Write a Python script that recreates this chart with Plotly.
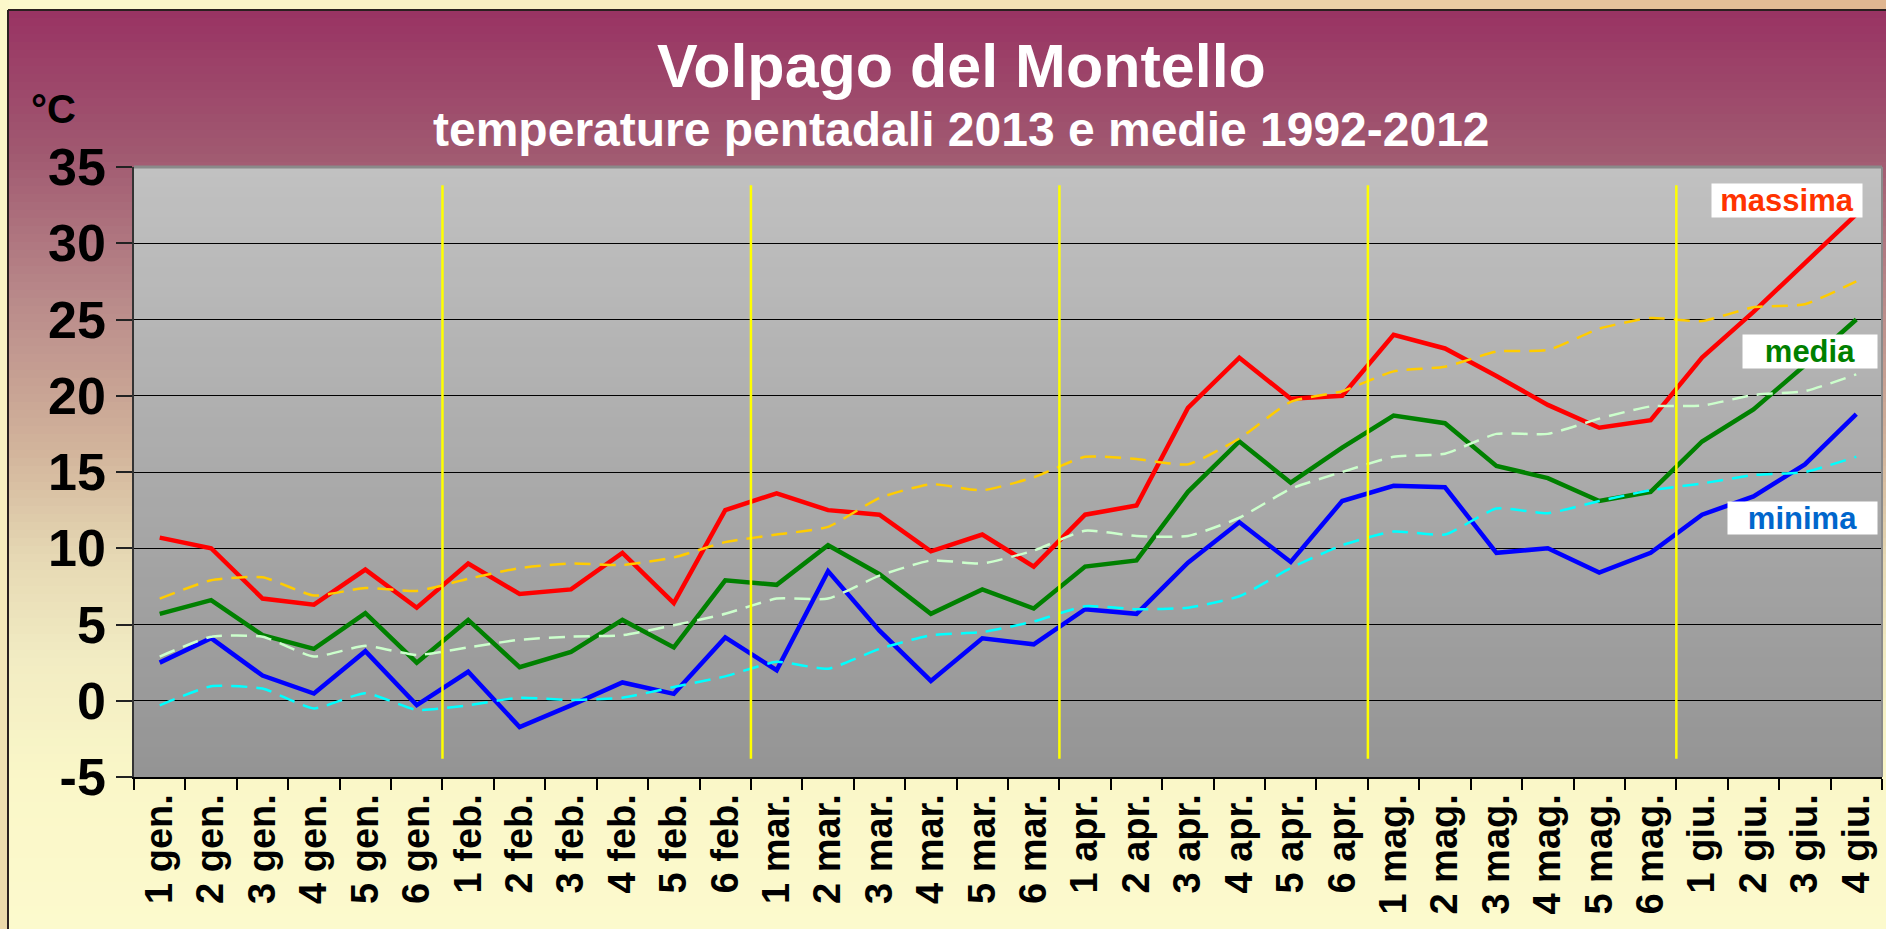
import plotly.graph_objects as go

# ---------------- data ----------------
categories = [
    "1 gen.", "2 gen.", "3 gen.", "4 gen.", "5 gen.", "6 gen.",
    "1 feb.", "2 feb.", "3 feb.", "4 feb.", "5 feb.", "6 feb.",
    "1 mar.", "2 mar.", "3 mar.", "4 mar.", "5 mar.", "6 mar.",
    "1 apr.", "2 apr.", "3 apr.", "4 apr.", "5 apr.", "6 apr.",
    "1 mag.", "2 mag.", "3 mag.", "4 mag.", "5 mag.", "6 mag.",
    "1 giu.", "2 giu.", "3 giu.", "4 giu.",
]

# 2013 pentad values
massima_2013 = [10.7, 10.0, 6.7, 6.3, 8.6, 6.1, 9.0, 7.0, 7.3, 9.7, 6.4, 12.5,
                13.6, 12.5, 12.2, 9.8, 10.9, 8.8, 12.2, 12.8, 19.2, 22.5, 19.8, 20.0,
                24.0, 23.1, 21.3, 19.4, 17.9, 18.4, 22.5, 25.5, 28.7, 31.9]
media_2013 = [5.7, 6.6, 4.3, 3.4, 5.75, 2.5, 5.3, 2.2, 3.2, 5.3, 3.5, 7.9,
              7.6, 10.2, 8.3, 5.7, 7.3, 6.05, 8.8, 9.2, 13.7, 17.0, 14.3, 16.6,
              18.7, 18.2, 15.4, 14.6, 13.1, 13.7, 17.0, 19.1, 22.0, 25.0]
minima_2013 = [2.5, 4.1, 1.65, 0.47, 3.25, -0.28, 1.9, -1.73, -0.3, 1.2, 0.45, 4.15,
               2.0, 8.5, 4.6, 1.3, 4.1, 3.7, 6.0, 5.7, 9.05, 11.7, 9.1, 13.1,
               14.1, 14.0, 9.7, 10.0, 8.4, 9.7, 12.2, 13.4, 15.5, 18.8]

# 1992-2012 averages
massima_media = [6.7, 7.9, 8.1, 6.9, 7.4, 7.2, 8.0, 8.7, 9.0, 8.9, 9.4, 10.4,
                 10.9, 11.4, 13.3, 14.2, 13.8, 14.65, 16.0, 15.85, 15.5, 17.2, 19.6, 20.3,
                 21.6, 21.9, 22.9, 23.0, 24.4, 25.1, 24.9, 25.8, 26.0, 27.5]
media_media = [2.9, 4.2, 4.2, 2.9, 3.6, 3.0, 3.5, 4.0, 4.2, 4.3, 4.95, 5.7,
               6.7, 6.7, 8.2, 9.2, 9.0, 9.85, 11.15, 10.8, 10.8, 12.0, 13.9, 15.0,
               16.0, 16.2, 17.5, 17.5, 18.5, 19.3, 19.35, 20.05, 20.3, 21.4]
minima_media = [-0.3, 0.95, 0.8, -0.5, 0.5, -0.6, -0.3, 0.2, 0.05, 0.2, 0.9, 1.6,
                2.55, 2.1, 3.4, 4.3, 4.5, 5.2, 6.2, 6.0, 6.1, 6.85, 8.7, 10.2,
                11.1, 10.9, 12.6, 12.3, 13.1, 13.8, 14.25, 14.8, 15.0, 16.0]

y_tickvals = [-5, 0, 5, 10, 15, 20, 25, 30, 35]
y_ticktext = ["-5", "0", "5", "10", "15", "20", "25", "30", "35"]

title_text = "Volpago del Montello"
subtitle_text = "temperature pentadali 2013 e medie 1992-2012"
unit_text = "°C"
legend_labels = ["massima", "media", "minima"]

# ---------------- geometry / helpers ----------------
FIG_W, FIG_H = 1886, 929
L, R, T, B = 134, 1882, 167, 777
FONT = "Liberation Sans, Arial, sans-serif"


def px(x):
    return (x - L) / (R - L)


def py(y):
    return (B - y) / (B - T)


def hex2rgb(h):
    h = h.lstrip("#")
    return tuple(int(h[i:i + 2], 16) for i in (0, 2, 4))


def interp(stops, t):
    for (t0, c0), (t1, c1) in zip(stops[:-1], stops[1:]):
        if t0 <= t <= t1:
            f = 0 if t1 == t0 else (t - t0) / (t1 - t0)
            a, b = hex2rgb(c0), hex2rgb(c1)
            return "rgb(%d,%d,%d)" % tuple(round(a[i] + (b[i] - a[i]) * f) for i in range(3))
    return stops[-1][1]


shapes = []

# outer frame top strip (horizontal gradient)
top_stops = [(0, "#FCF9CD"), (900, "#F6E6BA"), (1886, "#E0B690")]
step = 20
for x0 in range(0, FIG_W, step):
    shapes.append(dict(type="rect", xref="paper", yref="paper", layer="below",
                       x0=px(x0), x1=px(x0 + step + 1), y0=py(0), y1=py(11),
                       line=dict(width=0), fillcolor=interp(top_stops, x0 + step / 2)))
# left strip
left_stops = [(0, "#FCF8CA"), (500, "#F8EEC0"), (929, "#EBD8AA")]
for y0 in range(0, FIG_H, step):
    shapes.append(dict(type="rect", xref="paper", yref="paper", layer="below",
                       x0=px(0), x1=px(9), y0=py(y0), y1=py(y0 + step + 1),
                       line=dict(width=0), fillcolor=interp(left_stops, y0 + step / 2)))

# chart area gradient
chart_stops = [(10, "#993363"), (150, "#A05870"), (300, "#B98A8A"), (450, "#D2B49B"),
               (560, "#E6D9B4"), (660, "#F2ECC3"), (780, "#FAF7C8"), (929, "#FCFACD")]
step = 8
for y0 in range(10, FIG_H, step):
    shapes.append(dict(type="rect", xref="paper", yref="paper", layer="below",
                       x0=px(8), x1=px(FIG_W + 2), y0=py(y0), y1=py(y0 + step + 1),
                       line=dict(width=0), fillcolor=interp(chart_stops, y0 + step / 2)))

# plot area gradient
plot_stops = [(T, "#C1C1C1"), (B, "#949494")]
step = 10
for y0 in range(T, B, step):
    y1 = min(y0 + step + 1, B)
    shapes.append(dict(type="rect", xref="paper", yref="paper", layer="below",
                       x0=0, x1=1, y0=py(y0), y1=py(y1),
                       line=dict(width=0), fillcolor=interp(plot_stops, y0 + step / 2)))

# chart area border (top & left)
shapes.append(dict(type="line", xref="paper", yref="paper", layer="below",
                   x0=px(8), x1=px(FIG_W + 2), y0=py(10), y1=py(10),
                   line=dict(color="#2b2020", width=2)))
shapes.append(dict(type="line", xref="paper", yref="paper", layer="below",
                   x0=px(8), x1=px(8), y0=py(10), y1=py(FIG_H + 2),
                   line=dict(color="#2b2020", width=2)))
# plot area top & right border (gray)
shapes.append(dict(type="line", xref="paper", yref="paper", layer="above",
                   x0=0, x1=1, y0=1, y1=1, line=dict(color="#8a8a8a", width=3)))
shapes.append(dict(type="line", xref="paper", yref="paper", layer="above",
                   x0=1, x1=1, y0=0, y1=1, line=dict(color="#8a8a8a", width=2)))

# yellow month separators, at boundaries before each "1 ..." pentad
for i, c in enumerate(categories):
    if i > 0 and c.startswith("1 "):
        shapes.append(dict(type="line", xref="x", yref="y", layer="above",
                           x0=i - 0.5, x1=i - 0.5, y0=-3.8, y1=33.8,
                           line=dict(color="#FFFF00", width=2.5)))

# ---------------- traces ----------------
fig = go.Figure()
solid = [(massima_2013, "#FF0000"), (media_2013, "#008000"), (minima_2013, "#0000FF")]
dashed = [(massima_media, "#FFCC00"), (media_media, "#CCFFCC"), (minima_media, "#00FFFF")]
for vals, col in solid:
    fig.add_trace(go.Scatter(x=categories, y=vals, mode="lines",
                             line=dict(color=col, width=4.5), showlegend=False,
                             hoverinfo="x+y"))
for vals, col in dashed:
    fig.add_trace(go.Scatter(x=categories, y=vals, mode="lines",
                             line=dict(color=col, width=2.5, dash="16px,9px",
                                       shape="spline", smoothing=0.5),
                             showlegend=False, hoverinfo="x+y"))

# ---------------- annotations ----------------
annotations = [
    dict(text=title_text, x=px(961), y=py(66), xref="paper", yref="paper",
         xanchor="center", yanchor="middle", showarrow=False,
         font=dict(family=FONT, size=61, color="white", weight="bold")),
    dict(text=subtitle_text, x=px(961), y=py(129), xref="paper", yref="paper",
         xanchor="center", yanchor="middle", showarrow=False,
         font=dict(family=FONT, size=48, color="white", weight="bold")),
    dict(text=unit_text, x=px(53), y=py(109), xref="paper", yref="paper",
         xanchor="center", yanchor="middle", showarrow=False,
         font=dict(family=FONT, size=40, color="black", weight="bold")),
]
legend_boxes = [  # (center x, center y, width, height, color)
    (1787, 200, 150, 33, "#FF3300"),
    (1810, 351, 134, 33, "#008000"),
    (1802, 518, 149, 32, "#0066CC"),
]
for lab, (cx, cy, w, h, col) in zip(legend_labels, legend_boxes):
    annotations.append(dict(text=lab, x=px(cx), y=py(cy), xref="paper", yref="paper",
                            xanchor="center", yanchor="middle", showarrow=False,
                            width=w, height=h, bgcolor="white", borderpad=0,
                            font=dict(family=FONT, size=31, color=col, weight="bold")))

fig.update_layout(
    width=FIG_W, height=FIG_H, autosize=False,
    margin=dict(l=L, r=FIG_W - R, t=T, b=FIG_H - B, pad=0),
    paper_bgcolor="#FCF9CD", plot_bgcolor="rgba(0,0,0,0)",
    shapes=shapes, annotations=annotations, showlegend=False,
    xaxis=dict(type="category", categoryorder="array", categoryarray=categories,
               range=[-0.5, len(categories) - 0.5], tickson="boundaries",
               ticks="outside", ticklen=11, tickwidth=1.5, tickcolor="black",
               showgrid=False, showline=True, linecolor="black", linewidth=2,
               tickangle=-90, tickfont=dict(family=FONT, size=38, color="black", weight="bold")),
    yaxis=dict(range=[-5, 35], tickvals=y_tickvals, ticktext=y_ticktext,
               ticks="outside", ticklen=16, tickwidth=1.5, tickcolor="#222",
               showgrid=True, gridcolor="black", gridwidth=1, zeroline=False,
               showline=True, linecolor="#333", linewidth=1.5,
               tickfont=dict(family=FONT, size=52, color="black", weight="bold")),
)

fig.write_html("out.html", config={"displayModeBar": False},
               post_script="document.body.style.margin='0';")
